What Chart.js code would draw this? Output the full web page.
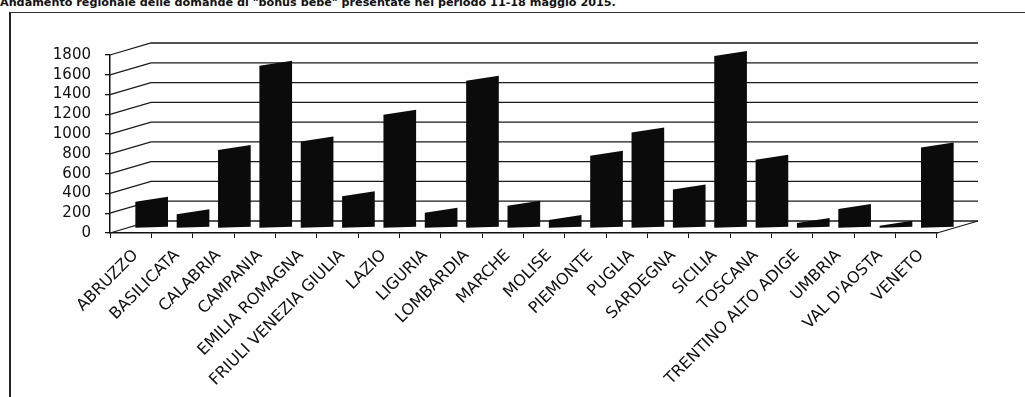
<!DOCTYPE html>
<html>
<head>
<meta charset="utf-8">
<script src="https://cdn.jsdelivr.net/npm/chart.js@4.4.0/dist/chart.umd.min.js"></script>
<style>
  body { margin: 0; background: #fff; width: 1025px; height: 397px; overflow: hidden; position: relative; }
  #title { position: absolute; left: 0; top: -4px; font: bold 11.2px "DejaVu Sans"; line-height: 14px; white-space: nowrap; color: #111; }
  #frame { position: absolute; left: 9px; top: 12px; width: 1030px; height: 400px; border-left: 2px solid #222; border-top: 1.5px solid #333; }
  #wrap { position: absolute; left: 0; top: 0; width: 1025px; height: 397px; }
</style>
</head>
<body>
<div id="title">Andamento regionale delle domande di "bonus bebè" presentate nel periodo 11-18 maggio 2015.</div>
<div id="frame"></div>
<div id="wrap"><canvas id="chart" width="1025" height="397"></canvas></div>
<script>
// regions and number of applications
const regions = ['ABRUZZO', 'BASILICATA', 'CALABRIA', 'CAMPANIA', 'EMILIA ROMAGNA', 'FRIULI VENEZIA GIULIA',
    'LAZIO', 'LIGURIA', 'LOMBARDIA', 'MARCHE', 'MOLISE', 'PIEMONTE', 'PUGLIA', 'SARDEGNA', 'SICILIA',
    'TOSCANA', 'TRENTINO ALTO ADIGE', 'UMBRIA', "VAL D'AOSTA", 'VENETO'];
const domande = [270, 145, 795, 1645, 880, 325, 1150, 160, 1495, 230, 86, 735, 970, 395, 1745, 695, 56, 197, 28, 820];
const yTicks = [0, 200, 400, 600, 800, 1000, 1200, 1400, 1600, 1800];

// fake 3d: back wall offset and bar shift
const wallDx = 41, wallDy = 12;
const barDx = 21, barDy = 4.5, barSlant = 5;
const ink = '#111';

const depth3d = {
    id: 'depth3d',
    beforeDatasetsDraw(chart) {
        const { ctx, chartArea: a, scales: { y } } = chart;
        ctx.save();
        ctx.strokeStyle = '#1a1a1a';
        ctx.lineWidth = 1.3;
        yTicks.forEach(v => {
            const py = y.getPixelForValue(v);
            ctx.beginPath();
            ctx.moveTo(a.left, py);
            ctx.lineTo(a.left + wallDx, py - wallDy);
            ctx.lineTo(a.right + wallDx, py - wallDy);
            ctx.stroke();
        });
        // right edge of the floor
        const p0 = y.getPixelForValue(0);
        ctx.beginPath();
        ctx.moveTo(a.right, p0);
        ctx.lineTo(a.right + wallDx, p0 - wallDy);
        ctx.stroke();
        ctx.restore();
    },
    afterDatasetsDraw(chart) {
        const ctx = chart.ctx;
        const meta = chart.getDatasetMeta(0);
        ctx.save();
        ctx.fillStyle = '#0b0b0b';
        meta.data.forEach(bar => {
            const xl = bar.x - bar.width / 2 + barDx;
            const xr = bar.x + bar.width / 2 + barDx;
            const top = bar.y - barDy;
            const base = bar.base - barDy;
            ctx.beginPath();
            ctx.moveTo(xl, base);
            ctx.lineTo(xl, top);
            ctx.lineTo(xr, top - barSlant);
            ctx.lineTo(xr, base - 1);
            ctx.closePath();
            ctx.fill();
        });
        ctx.restore();
    }
};

new Chart(document.getElementById('chart'), {
    type: 'bar',
    data: {
        labels: regions,
        datasets: [{
            label: 'Domande',
            data: domande,
            backgroundColor: 'rgba(0,0,0,0)',
            borderWidth: 0,
            categoryPercentage: 1,
            barPercentage: 0.79
        }]
    },
    options: {
        responsive: false,
        devicePixelRatio: 1,
        animation: false,
        layout: { padding: { left: 0, top: 55, right: 88, bottom: 0 } },
        plugins: { legend: { display: false }, tooltip: { enabled: false } },
        scales: {
            x: {
                ticks: {
                    font: { family: 'DejaVu Sans', size: 16 },
                    color: ink,
                    minRotation: 45,
                    maxRotation: 45,
                    autoSkip: false,
                    labelOffset: 5,
                    padding: 8
                },
                grid: { drawOnChartArea: false, tickLength: 5, color: ink, offset: true },
                border: { color: ink, width: 1.5 },
                afterFit: s => { s.height = 164; }
            },
            y: {
                min: 0,
                max: 1800,
                afterBuildTicks: s => { s.ticks = yTicks.map(v => ({ value: v })); },
                ticks: {
                    font: { family: 'DejaVu Sans', size: 15 },
                    color: ink,
                    padding: 14,
                    autoSkip: false,
                    callback: v => String(v)
                },
                grid: { drawOnChartArea: false, tickLength: 5, color: ink, lineWidth: 1.3 },
                border: { color: ink, width: 1.5 },
                afterFit: s => { s.width = 110; }
            }
        }
    },
    plugins: [depth3d]
});
</script>
</body>
</html>
